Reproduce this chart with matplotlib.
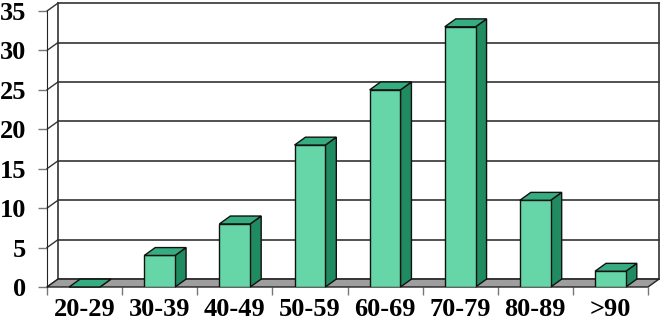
import matplotlib
matplotlib.use("Agg")
import matplotlib.pyplot as plt
from matplotlib.patches import Polygon

# age groups and counts
age_groups = ['20-29', '30-39', '40-49', '50-59', '60-69', '70-79', '80-89', '>90']
counts = [0, 4, 8, 18, 25, 33, 11, 2]
y_ticks = [0, 5, 10, 15, 20, 25, 30, 35]

plt.rcParams['font.family'] = ['Liberation Serif', 'DejaVu Serif']
plt.rcParams['font.weight'] = 'bold'

front_col = '#66d6a8'
top_col = '#35ad80'
side_col = '#208a60'
floor_col = '#9e9e9e'

# depth of the fake 3D box, in data units
dx, dy = 0.146, 1.0
bar_w = 0.41
n = len(age_groups)
ymax = y_ticks[-1]

fig = plt.figure(figsize=(6.61, 3.25), dpi=100)
ax = fig.add_axes([47 / 661, 38 / 325, 601 / 661, 276 / 325])
ax.set_xlim(0, n)
ax.set_ylim(0, ymax)

# back wall grid and side wall lines
for v in y_ticks:
    ax.plot([dx, n + dx], [v + dy, v + dy], color='#333333', lw=1.2, zorder=1, clip_on=False)
    ax.plot([0, dx], [v, v + dy], color='#333333', lw=1.0, zorder=1, clip_on=False)
ax.plot([dx, dx], [dy, ymax + dy], color='#333333', lw=1.2, zorder=1, clip_on=False)
ax.plot([n + dx, n + dx], [dy, ymax + dy], color='#333333', lw=1.2, zorder=1, clip_on=False)

# floor
ax.add_patch(Polygon([(0, 0), (n, 0), (n + dx, dy), (dx, dy)], closed=True,
                     facecolor=floor_col, edgecolor='#222222', lw=1.0, zorder=2, clip_on=False))

# bars: front faces through ax.bar, tops and sides as polygons
centers = [i + 0.5 for i in range(n)]
ax.bar(centers, counts, width=bar_w, color=front_col, edgecolor='#111111', lw=1.0, zorder=4)
for c, v in zip(centers, counts):
    x0, x1 = c - bar_w / 2, c + bar_w / 2
    ax.add_patch(Polygon([(x1, 0), (x1 + dx, dy), (x1 + dx, v + dy), (x1, v)], closed=True,
                         facecolor=side_col, edgecolor='#111111', lw=1.0, zorder=3, clip_on=False))
    ax.add_patch(Polygon([(x0, v), (x1, v), (x1 + dx, v + dy), (x0 + dx, v + dy)], closed=True,
                         facecolor=top_col, edgecolor='#111111', lw=1.0, zorder=5, clip_on=False))

for s in ['top', 'right']:
    ax.spines[s].set_visible(False)
ax.spines['left'].set_color('#222222')
ax.spines['left'].set_zorder(6)
ax.spines['bottom'].set_visible(False)
ax.set_facecolor('none')

ax.set_yticks(y_ticks)
ax.set_yticklabels([str(v) for v in y_ticks], fontsize=19, fontweight='bold')
ax.tick_params(axis='y', length=6.5, width=1.0, color='#777777', pad=8.5)

ax.set_xticks(range(n + 1))
ax.set_xticklabels([])
ax.tick_params(axis='x', which='major', length=6, width=1.0, color='#777777')
ax.set_xticks(centers, minor=True)
ax.set_xticklabels(age_groups, minor=True, fontsize=19, fontweight='bold')
ax.tick_params(axis='x', which='minor', length=0, pad=8)

fig.savefig('out.png', dpi=100)
